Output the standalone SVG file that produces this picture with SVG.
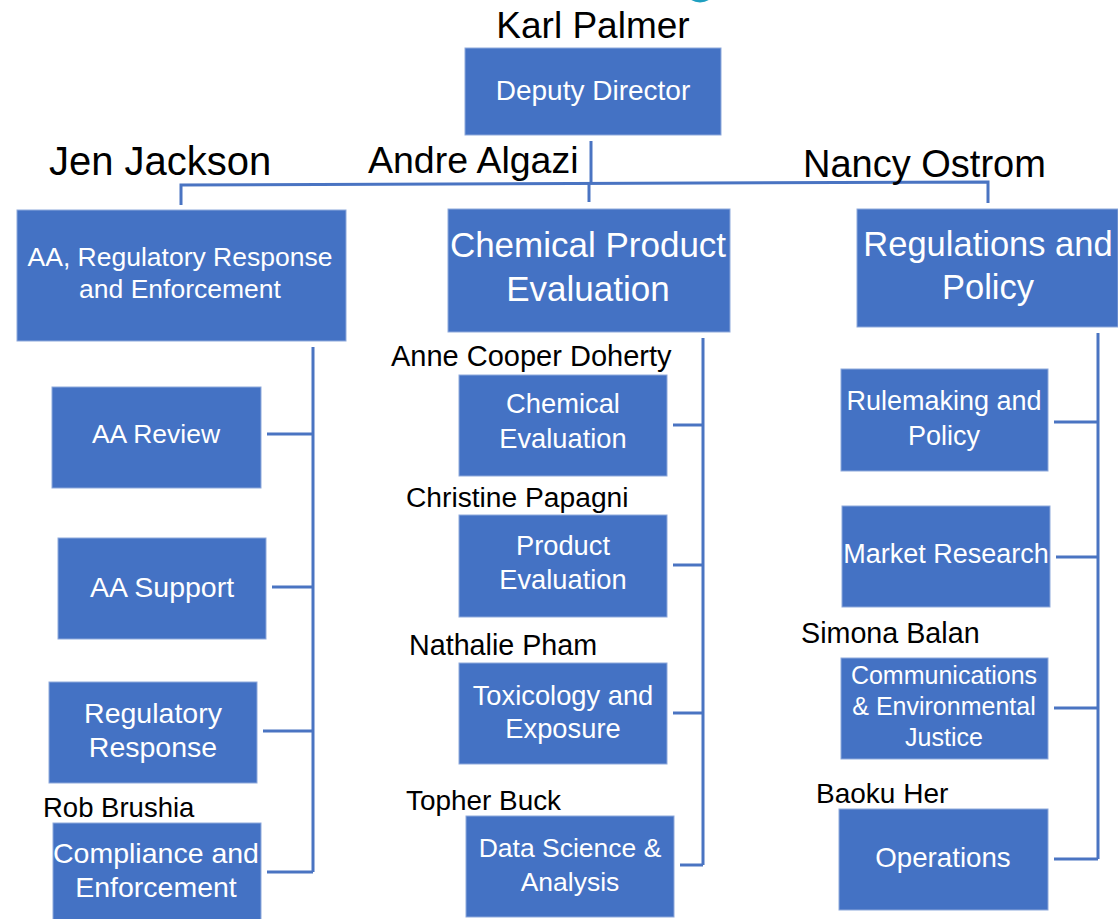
<svg xmlns="http://www.w3.org/2000/svg" width="1118" height="919" viewBox="0 0 1118 919">
<style>
.box{fill:#4472C4;stroke:#8EA9DB;stroke-width:1}
.bt{fill:#ffffff;font-family:"Liberation Sans",Arial,sans-serif;text-anchor:middle}
.nm{fill:#000000;font-family:"Liberation Sans",Arial,sans-serif}
.cn{fill:none;stroke:#4A74C2;stroke-width:3}
</style>
<rect width="1118" height="919" fill="#ffffff"/>
<ellipse cx="700" cy="-9" rx="14" ry="11.5" fill="#1E9FC0"/>

<g id="connectors">
<path class="cn" d="M591,141 V183"/>
<path class="cn" d="M181,205 V185 L988,182 V203"/>
<path class="cn" d="M589,183 V202"/>
<path class="cn" d="M313,347 V872"/>
<path class="cn" d="M267,434 H313"/>
<path class="cn" d="M272,587 H313"/>
<path class="cn" d="M263,731 H313"/>
<path class="cn" d="M267,872 H313"/>
<path class="cn" d="M703,338 V865"/>
<path class="cn" d="M673,425 H703"/>
<path class="cn" d="M673,565 H703"/>
<path class="cn" d="M673,713 H703"/>
<path class="cn" d="M680,865 H703"/>
<path class="cn" d="M1098,333 V859"/>
<path class="cn" d="M1054,422 H1098"/>
<path class="cn" d="M1056,557 H1098"/>
<path class="cn" d="M1054,708 H1098"/>
<path class="cn" d="M1054,859 H1098"/>
</g>

<g id="deputy-director">
<text class="nm" x="593" y="38" font-size="37" text-anchor="middle">Karl Palmer</text>
<rect class="box" x="465" y="48" width="256" height="87"/>
<text class="bt" x="593" y="100" font-size="28">Deputy Director</text>
</g>

<g id="aa-rre">
<text class="nm" x="49" y="175" font-size="40">Jen Jackson</text>
<rect class="box" x="17" y="210" width="329" height="131"/>
<text class="bt" x="180" y="266" font-size="26.5">AA, Regulatory Response</text>
<text class="bt" x="180" y="298" font-size="26.5">and Enforcement</text>
</g>

<g id="cpe">
<text class="nm" x="368" y="173" font-size="37.5">Andre Algazi</text>
<rect class="box" x="448" y="209" width="282" height="123"/>
<text class="bt" x="588" y="257" font-size="35">Chemical Product</text>
<text class="bt" x="588" y="301" font-size="35">Evaluation</text>
</g>

<g id="rp">
<text class="nm" x="803" y="177" font-size="38">Nancy Ostrom</text>
<rect class="box" x="857" y="209" width="261" height="118"/>
<text class="bt" x="988" y="256" font-size="34.5">Regulations and</text>
<text class="bt" x="988" y="299" font-size="34.5">Policy</text>
</g>

<g id="aa-review">
<rect class="box" x="52" y="387" width="209" height="101"/>
<text class="bt" x="156" y="443" font-size="26.5">AA Review</text>
</g>

<g id="aa-support">
<rect class="box" x="58" y="538" width="208" height="101"/>
<text class="bt" x="162" y="597" font-size="28.5">AA Support</text>
</g>

<g id="regulatory-response">
<rect class="box" x="49" y="682" width="208" height="101"/>
<text class="bt" x="153" y="723" font-size="28.5">Regulatory</text>
<text class="bt" x="153" y="757" font-size="28.5">Response</text>
</g>

<g id="compliance">
<text class="nm" x="43" y="817" font-size="27.5">Rob Brushia</text>
<rect class="box" x="53" y="823" width="208" height="100"/>
<text class="bt" x="156" y="863" font-size="28.5">Compliance and</text>
<text class="bt" x="156" y="897" font-size="28.5">Enforcement</text>
</g>

<g id="chemical-evaluation">
<text class="nm" x="391" y="366" font-size="29">Anne Cooper Doherty</text>
<rect class="box" x="459" y="375" width="208" height="101"/>
<text class="bt" x="563" y="413" font-size="27.3">Chemical</text>
<text class="bt" x="563" y="448" font-size="27.3">Evaluation</text>
</g>

<g id="product-evaluation">
<text class="nm" x="406" y="507" font-size="28.2">Christine Papagni</text>
<rect class="box" x="459" y="515" width="208" height="102"/>
<text class="bt" x="563" y="555" font-size="27.3">Product</text>
<text class="bt" x="563" y="589" font-size="27.3">Evaluation</text>
</g>

<g id="toxicology">
<text class="nm" x="409" y="655" font-size="28.7">Nathalie Pham</text>
<rect class="box" x="459" y="663" width="208" height="101"/>
<text class="bt" x="563" y="705" font-size="27.3">Toxicology and</text>
<text class="bt" x="563" y="738" font-size="27.3">Exposure</text>
</g>

<g id="data-science">
<text class="nm" x="406" y="810" font-size="27.9">Topher Buck</text>
<rect class="box" x="466" y="816" width="208" height="101"/>
<text class="bt" x="570" y="857" font-size="26.5">Data Science &amp;</text>
<text class="bt" x="570" y="891" font-size="26.5">Analysis</text>
</g>

<g id="rulemaking">
<rect class="box" x="841" y="369" width="207" height="102"/>
<text class="bt" x="944" y="410" font-size="27">Rulemaking and</text>
<text class="bt" x="944" y="445" font-size="27">Policy</text>
</g>

<g id="market-research">
<rect class="box" x="842" y="506" width="208" height="101"/>
<text class="bt" x="946" y="563" font-size="27">Market Research</text>
</g>

<g id="communications">
<text class="nm" x="801" y="643" font-size="28.7">Simona Balan</text>
<rect class="box" x="841" y="658" width="207" height="101"/>
<text class="bt" x="944" y="684" font-size="25">Communications</text>
<text class="bt" x="944" y="715" font-size="25">&amp; Environmental</text>
<text class="bt" x="944" y="746" font-size="25">Justice</text>
</g>

<g id="operations">
<text class="nm" x="816" y="803" font-size="28">Baoku Her</text>
<rect class="box" x="839" y="809" width="209" height="101"/>
<text class="bt" x="943" y="867" font-size="27.7">Operations</text>
</g>
</svg>
